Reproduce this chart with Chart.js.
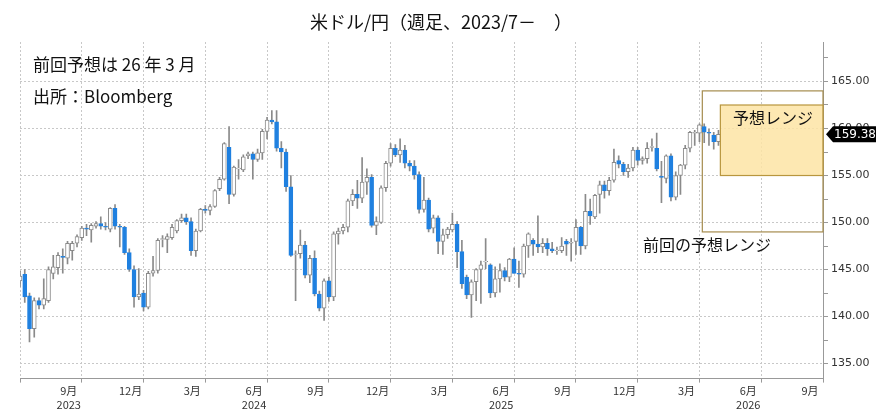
<!DOCTYPE html>
<html><head><meta charset="utf-8">
<script src="https://cdn.jsdelivr.net/npm/chart.js@4"></script>
<style>html,body{margin:0;padding:0;background:#fff}#w{width:882px;height:419px}</style>
</head><body><div id="w"><canvas id="c"></canvas></div>
<script>
const opens=[143.8,144.5,142.2,138.7,141.7,141.2,141.7,144.6,145.2,146.4,146.2,147.0,147.8,148.4,149.4,149.2,149.6,149.9,149.6,149.3,151.5,149.6,149.5,146.8,145.0,142.1,142.5,141.0,144.6,144.9,148.2,148.2,148.4,149.1,150.2,150.5,150.1,147.0,149.1,151.4,151.3,151.7,153.6,154.6,158.0,153.0,155.7,155.6,157.1,157.3,156.7,157.4,159.7,160.9,160.7,157.9,157.5,153.8,146.6,146.7,147.6,144.4,146.2,142.4,140.9,143.8,142.1,148.8,149.1,149.5,152.3,153.0,152.6,154.3,154.8,149.7,150.0,153.7,156.3,157.9,157.2,157.7,156.3,156.0,155.1,151.4,152.4,149.4,150.5,148.0,148.7,149.2,149.8,146.9,144.2,142.3,143.7,145.0,145.8,145.5,142.5,144.0,144.9,144.2,146.1,144.6,144.5,147.5,148.1,147.7,147.4,147.8,147.2,147.0,147.0,148.0,147.8,148.0,149.5,147.5,151.2,150.6,153.0,154.0,153.4,154.5,156.6,156.2,155.4,155.8,157.7,156.6,156.8,158.0,157.9,154.9,154.7,157.1,152.7,155.0,156.1,157.9,159.5,159.5,160.2,159.6,159.3,158.6];
const highs=[144.8,145.0,142.5,142.0,142.0,144.0,145.3,146.5,146.8,147.2,148.0,148.0,148.7,149.6,149.8,149.9,150.1,150.6,150.0,151.6,151.9,149.8,149.6,147.2,145.4,145.1,142.8,144.8,146.4,148.3,148.6,148.8,149.8,150.3,150.9,150.9,150.5,149.3,151.5,151.8,151.9,153.5,154.8,158.5,160.2,156.0,156.7,157.2,157.5,157.5,157.8,159.9,161.2,161.9,161.9,158.6,157.8,155.0,147.0,149.2,148.0,146.5,147.0,142.7,144.0,144.2,149.0,149.4,149.8,152.5,153.5,154.5,156.9,155.7,155.1,150.6,153.9,156.5,158.4,158.3,158.9,158.2,156.6,156.6,155.4,154.8,152.6,150.8,150.7,149.3,149.5,151.0,150.1,148.1,144.4,143.9,145.1,145.9,148.3,145.6,145.3,145.6,145.2,146.2,147.3,145.9,147.7,148.9,148.3,150.7,148.3,148.3,147.9,147.4,148.4,148.2,148.3,150.3,149.6,153.0,152.5,153.0,154.4,154.4,154.8,157.8,157.1,156.4,156.2,158.0,158.0,157.0,158.5,158.9,159.5,156.5,157.2,157.3,155.4,156.2,158.2,159.7,159.8,160.5,160.5,159.9,159.6,159.8];
const lows=[143.2,141.5,137.3,137.8,140.8,140.8,141.5,144.0,144.5,144.6,145.6,146.0,147.4,148.1,148.6,147.9,149.4,149.3,149.2,149.0,149.3,147.4,146.6,144.8,141.0,141.8,140.6,140.8,144.3,144.6,147.4,146.8,148.2,148.9,150.0,149.8,146.5,146.4,149.0,151.0,150.8,151.6,153.4,154.5,152.0,152.8,154.6,155.4,156.8,154.6,156.5,156.7,158.9,160.5,157.6,155.8,153.3,146.4,141.7,146.2,144.1,143.6,142.2,140.6,139.6,141.6,141.7,147.7,148.8,149.0,151.8,151.5,152.1,153.0,149.5,148.7,149.9,153.3,156.0,157.0,156.4,155.8,155.5,154.6,151.0,151.1,149.0,148.9,146.7,146.6,148.3,149.0,145.2,143.0,141.9,139.9,141.7,141.4,145.1,142.0,142.1,142.6,143.8,143.7,144.6,143.1,144.2,146.3,146.5,146.8,146.8,146.5,146.8,146.6,146.8,146.5,145.9,146.6,146.6,147.2,149.8,150.4,151.0,152.6,152.9,154.3,155.8,155.0,154.8,155.5,156.1,156.2,156.3,157.6,155.5,152.1,154.2,152.3,152.4,153.0,155.7,157.5,158.2,158.6,158.5,158.2,157.8,158.2];
const closes=[144.3,142.1,138.7,141.7,141.2,141.9,145.0,145.3,146.5,146.3,147.8,147.8,148.5,149.4,149.3,149.7,149.9,149.6,149.5,151.5,149.6,149.5,146.8,145.0,142.1,142.4,141.0,144.6,144.9,148.1,148.2,148.5,149.5,150.2,150.5,150.1,147.0,149.1,151.4,151.3,151.7,153.4,154.6,158.4,153.0,155.9,155.7,157.0,157.3,156.7,157.4,159.7,160.9,160.7,157.9,157.5,153.8,146.5,146.6,147.6,144.4,146.2,142.4,140.9,143.8,142.1,148.8,149.1,149.5,152.3,153.0,152.6,154.3,154.8,149.7,150.1,153.7,156.3,157.9,157.2,157.7,156.3,156.0,155.1,151.4,152.4,149.3,150.5,148.0,148.7,149.3,149.8,146.9,143.5,142.3,143.7,145.0,145.5,145.8,142.5,144.0,144.9,144.2,146.1,144.6,144.5,147.5,148.8,147.7,147.4,147.8,147.2,147.0,147.0,147.5,147.7,147.9,149.5,147.5,151.2,150.7,152.9,154.0,153.4,154.5,156.4,156.2,155.4,155.8,157.7,156.6,156.8,157.9,158.0,155.7,154.8,157.1,152.7,155.0,156.1,157.9,159.6,159.5,160.4,159.6,159.5,158.6,159.38];
const monthLabels=['','9月','12月','3月','6月','9月','12月','3月','6月','9月','12月','3月','6月','9月'];
const yearLabels=['','2023','','','2024','','','','2025','','','','2026',''];
const prevRange=[143.6,169,149,164];
const newRange=[147.4,169,155,162.5];
const lastPrice=159.38;

const BLUE='#1f80e0',GRAY='#8a8a8a';
const bodies=closes.map((c,i)=>({x:i,y:[opens[i],c===opens[i]?c+0.08:c]}));
const wicks=closes.map((c,i)=>({x:i,y:[lows[i],highs[i]]}));
const up=closes.map((c,i)=>c>=opens[i]);

const deco={id:'deco',
 beforeDatasetsDraw(ch){const x=ch.scales.x,y=ch.scales.y,g=ch.ctx;g.save();
  g.strokeStyle='#a58c4e';g.lineWidth=1.2;
  g.strokeRect(x.getPixelForValue(prevRange[0]),y.getPixelForValue(prevRange[3]),x.getPixelForValue(prevRange[1])-x.getPixelForValue(prevRange[0]),y.getPixelForValue(prevRange[2])-y.getPixelForValue(prevRange[3]));
  g.restore();},
 afterDatasetsDraw(ch){const x=ch.scales.x,y=ch.scales.y,g=ch.ctx;g.save();
  const x0=x.getPixelForValue(newRange[0]),x1=x.getPixelForValue(newRange[1]),y0=y.getPixelForValue(newRange[3]),y1=y.getPixelForValue(newRange[2]);
  g.fillStyle='rgba(253,228,165,0.85)';g.fillRect(x0,y0,x1-x0,y1-y0);
  g.strokeStyle='#b8963e';g.lineWidth=1.2;g.strokeRect(x0,y0,x1-x0,y1-y0);
  g.fillStyle='#111';g.font='16px "Noto Sans CJK JP"';g.textBaseline='middle';
  g.fillText('予想レンジ',733,118);
  g.fillText('前回の予想レンジ',643,245);
  g.font='18px "Noto Sans CJK JP"';g.textAlign='center';g.fillText('米ドル/円（週足、2023/7－　）',441,22);
  g.textAlign='left';g.font='17px "Noto Sans CJK JP"';
  g.fillText('前回予想は 26 年 3 月',33,65);g.fillText('出所：Bloomberg',33,97);
  const py=y.getPixelForValue(lastPrice),px=x.right+3;
  g.fillStyle='#000';g.beginPath();g.moveTo(px,py);g.lineTo(px+7,py-8);g.lineTo(px+50,py-8);g.lineTo(px+50,py+8);g.lineTo(px+7,py+8);g.closePath();g.fill();
  g.fillStyle='#fff';g.font='12px "DejaVu Sans"';g.fillText(lastPrice.toFixed(2),px+8,py+1);
  g.restore();}};

new Chart(document.getElementById('c'),{type:'bar',
 data:{datasets:[
  {data:bodies,backgroundColor:up.map(u=>u?'#fff':BLUE),borderColor:up.map(u=>u?GRAY:BLUE),borderWidth:1,borderSkipped:false,barThickness:4,grouped:false,order:0},
  {data:wicks,backgroundColor:GRAY,borderWidth:0,barThickness:1,grouped:false,order:1}]},
 options:{responsive:true,maintainAspectRatio:false,animation:false,
  layout:{padding:{left:20,top:42,right:0,bottom:6}},
  plugins:{legend:{display:false},tooltip:{enabled:false}},
  scales:{
   x:{type:'linear',min:0,max:169,offset:false,
    afterBuildTicks(a){a.ticks=monthLabels.map((m,i)=>({value:i*13}));},
    ticks:{autoSkip:false,maxRotation:0,labelOffset:-13,color:'#333',font:{size:11,family:'"Noto Sans CJK JP"'},padding:2,
     callback:(v,i)=>yearLabels[i]?[monthLabels[i],yearLabels[i]]:monthLabels[i]},
    grid:{color:'#c8c8c8',tickLength:4,tickColor:'#999',offset:false},border:{color:'#999',dash:[2,2]}},
   y:{position:'right',min:133.4,max:169.2,afterFit(a){a.width=59;},
    afterBuildTicks(a){const t=[];for(let v=135;v<=167.5;v+=2.5)t.push({value:v});a.ticks=t;},
    ticks:{color:'#333',font:{size:11,family:'"DejaVu Sans"'},padding:3,callback:v=>v%5===0?v.toFixed(2):''},
    grid:{color:c=>c.tick&&c.tick.value%5===0?'#c8c8c8':'rgba(0,0,0,0)',tickColor:'#999',tickLength:5},
    border:{color:'#999',dash:[2,2]}}}},
 plugins:[deco]});
</script></body></html>
